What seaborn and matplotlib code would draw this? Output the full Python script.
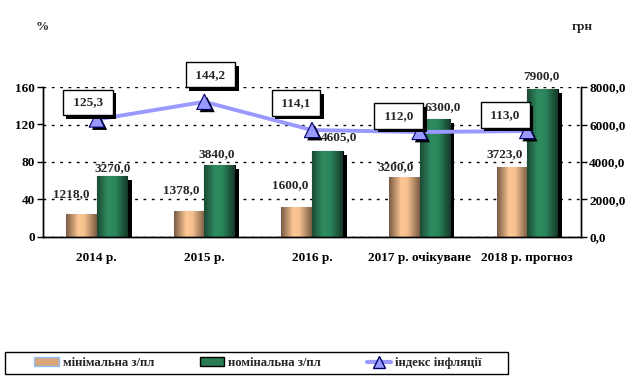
import numpy as np
import pandas as pd
import matplotlib
matplotlib.use('Agg')
import matplotlib.pyplot as plt
import matplotlib.patheffects as pe
from matplotlib.colors import LinearSegmentedColormap
from matplotlib.patches import Patch, Rectangle
from matplotlib.lines import Line2D
import seaborn as sns

# Data
years = ['2014 р.', '2015 р.', '2016 р.', '2017 р. очікуване', '2018 р. прогноз']
min_wage = [1218.0, 1378.0, 1600.0, 3200.0, 3723.0]
nom_wage = [3270.0, 3840.0, 4605.0, 6300.0, 7900.0]
inflation = [125.3, 144.2, 114.1, 112.0, 113.0]
left_ticks = [0, 40, 80, 120, 160]
right_ticks = [0, 2000, 4000, 6000, 8000]

series_min = 'мінімальна з/пл'
series_nom = 'номінальна з/пл'
series_inf = 'індекс інфляції'

# label offsets in pixels (dx, dy)
min_offsets = [(-10, 20), (-8, 21), (-6, 22), (-9, 10), (-7, 13)]
nom_offsets = [(0, 8), (-3, 11), (12, 13), (8, 12), (-1, 13)]
inf_offsets = [(-9, 17), (6, 27), (-16, 27), (-21, 16), (-22, 16)]

df = pd.DataFrame({
    'year': years * 2,
    'value': min_wage + nom_wage,
    'series': [series_min] * len(years) + [series_nom] * len(years),
})

sns.set_theme(style='white')
plt.rcParams['font.family'] = ['Liberation Serif', 'DejaVu Serif']
plt.rcParams['font.weight'] = 'bold'
plt.rcParams['font.size'] = 9.5

fig = plt.figure(figsize=(6.39, 3.82), dpi=100)
ax = fig.add_axes([43 / 639, 1 - 237 / 382, 538 / 639, 150 / 382])
ax2 = ax.twinx()

# bars on the right axis (грн)
sns.barplot(data=df, x='year', y='value', hue='series', ax=ax2, width=0.57,
            palette={series_min: '#e0a878', series_nom: '#2a7a52'},
            saturation=1, legend=False, errorbar=None)

cmap_min = LinearSegmentedColormap.from_list('m', [(0, '#7a5c44'), (0.4, '#ffc994'),
                                                    (0.6, '#f5bf8e'), (1, '#7a5c44')])
cmap_nom = LinearSegmentedColormap.from_list('n', [(0, '#1c4a35'), (0.35, '#2f8c60'),
                                                    (0.6, '#2b865b'), (1, '#153a29')])
grad = np.linspace(0, 1, 64).reshape(1, -1)
n = len(years)
for i, bar in enumerate(ax2.patches[:2 * n]):
    is_min = i < n
    bar.set_edgecolor('#8fbfff' if is_min else 'black')
    bar.set_linewidth(0.8)
    bar.set_path_effects([pe.SimplePatchShadow(offset=(3, -3), shadow_rgbFace='black', alpha=1.0),
                          pe.Normal()])
    x0, y0 = bar.get_x(), bar.get_y()
    x1, y1 = x0 + bar.get_width(), y0 + bar.get_height()
    im = ax2.imshow(grad, extent=(x0, x1, y0, y1), aspect='auto',
                    cmap=cmap_min if is_min else cmap_nom, zorder=bar.get_zorder() + 0.1)
    im.set_clip_path(bar)

for i in range(n):
    ax2.annotate(f'{min_wage[i]:.1f}'.replace('.', ','), (i - 0.57 / 4, min_wage[i]),
                 xytext=min_offsets[i], textcoords='offset pixels',
                 ha='center', va='center', fontsize=9.5, fontweight='bold')
    ax2.annotate(f'{nom_wage[i]:.1f}'.replace('.', ','), (i + 0.57 / 4, nom_wage[i]),
                 xytext=nom_offsets[i], textcoords='offset pixels',
                 ha='center', va='center', fontsize=9.5, fontweight='bold')

ax2.set_ylim(0, 8000)
ax2.set_yticks(right_ticks)
ax2.set_yticklabels([f'{t:.1f}'.replace('.', ',') for t in right_ticks])
ax2.yaxis.grid(True, color='black', linestyle=(0, (2, 4)), linewidth=1)
ax2.set_axisbelow(True)
ax2.set_ylabel('')
ax2.set_xlabel('')

# inflation line on the left axis (%)
xs = np.arange(n)
sns.lineplot(x=xs, y=inflation, ax=ax, color='#9999ff', linewidth=2.8, zorder=5)
sc = ax.scatter(xs, inflation, marker='^', s=120, color='#9999ff',
                edgecolor='#000066', linewidth=0.8, zorder=6)
sc.set_path_effects([pe.SimplePatchShadow(offset=(2, -2), shadow_rgbFace='black', alpha=1.0),
                     pe.Normal()])
for i in range(n):
    t = ax.annotate(' ' + f'{inflation[i]:.1f}'.replace('.', ',') + ' ', (xs[i], inflation[i]),
                    xytext=inf_offsets[i], textcoords='offset pixels',
                    ha='center', va='center', fontsize=9.5, fontweight='bold', zorder=7,
                    bbox=dict(boxstyle='square,pad=0.5', fc='white', ec='black', lw=1))
    t.get_bbox_patch().set_path_effects([pe.SimplePatchShadow(offset=(2.5, -2.5),
                                                              shadow_rgbFace='black', alpha=1.0),
                                         pe.Normal()])

ax.set_zorder(ax2.get_zorder() + 1)
ax.patch.set_visible(False)
ax.set_ylim(0, 160)
ax.set_yticks(left_ticks)
ax.set_xlim(-0.5, n - 0.5)
ax.set_xticks(xs)
ax.set_xticklabels(years)
ax.set_xticks(np.arange(n + 1) - 0.5, minor=True)
ax.tick_params(axis='x', which='major', length=0, pad=11)
ax.tick_params(axis='x', which='minor', length=5, width=1, color='black', direction='out')
ax.tick_params(axis='y', length=4, width=1, color='black', direction='out', left=True, pad=2)
ax2.tick_params(axis='y', length=4, width=1, color='black', direction='out', right=True, pad=2)
ax2.tick_params(axis='x', length=0)

for a in (ax, ax2):
    a.spines['top'].set_visible(False)
    for s in ('left', 'right', 'bottom'):
        a.spines[s].set_color('black')
        a.spines[s].set_linewidth(1)
    for lbl in a.get_xticklabels() + a.get_yticklabels():
        lbl.set_fontweight('bold')
        lbl.set_fontsize(9.5)
        lbl.set_color('black')

fig.text(42 / 639, 1 - 27 / 382, '%', ha='center', va='center', fontsize=9.5, fontweight='bold')
fig.text(582 / 639, 1 - 27 / 382, 'грн', ha='center', va='center', fontsize=9.5, fontweight='bold')

# legend with a fixed frame
fig.patches.append(Rectangle((5 / 639, 8 / 382), 503 / 639, 22 / 382, transform=fig.transFigure,
                             facecolor='white', edgecolor='black', linewidth=1))
handles = [
    Patch(facecolor='#d9a57a', edgecolor='#8fbfff', label=series_min),
    Patch(facecolor='#2a7a52', edgecolor='black', label=series_nom),
    Line2D([0], [0], color='#9999ff', linewidth=3, marker='^', markersize=9,
           markerfacecolor='#9999ff', markeredgecolor='#000066', label=series_inf),
]
fig.legend(handles=handles, loc='center', ncol=3,
           bbox_to_anchor=(258 / 639, 19 / 382),
           frameon=False, borderaxespad=0, borderpad=0.2, handlelength=1.9,
           handletextpad=0.3, columnspacing=3.6,
           prop={'family': 'Liberation Serif', 'weight': 'bold', 'size': 9.2})

fig.savefig('out.png', dpi=100)
